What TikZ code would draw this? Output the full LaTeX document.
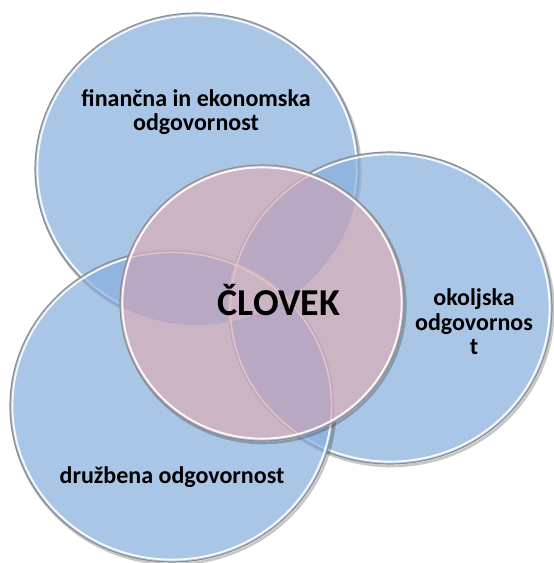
\documentclass[tikz,border=0pt]{standalone}
\usepackage{fontspec}
\setmainfont{Carlito}
\begin{document}
\begin{tikzpicture}[x=1pt,y=-1pt]
  % palette
  \definecolor{bluefill}{RGB}{134,174,220}
  \definecolor{pinklight}{RGB}{203,180,195}
  \definecolor{pinkdark}{RGB}{184,168,195}
  \definecolor{rimgray}{RGB}{140,140,140}
  \definecolor{seamline}{RGB}{232,192,190}
  \definecolor{headblue}{RGB}{44,88,158}

  \tikzset{
    ring/.style={x radius=162, y radius=156},
    innerring/.style={x radius=159.6, y radius=153.6},
    hubring/.style={x radius=142, y radius=138},
    hubinner/.style={x radius=139.6, y radius=135.6},
    rimshadow/.style={draw=black, draw opacity=0.22, line width=2.6pt},
    rimedge/.style={draw=rimgray, line width=1.1pt},
    rimshine/.style={draw=white, draw opacity=0.9, line width=1.9pt},
    disc/.style={fill=bluefill, fill opacity=0.7},
    lbl/.style={font=\bfseries\fontsize{24}{24.5}\selectfont, align=center, text=black, inner sep=0pt},
    hublbl/.style={font=\bfseries\fontsize{38}{42}\selectfont, text=black, inner sep=0pt},
    headlbl/.style={font=\bfseries\fontsize{24}{28}\selectfont, text=headblue, inner sep=0pt, anchor=base}
  }

  \useasboundingbox (0,0) rectangle (554,563);

  % centres of the four discs
  \coordinate (tl) at (197,169);
  \coordinate (rt) at (390,308);
  \coordinate (bl) at (172,406);
  \coordinate (hub) at (262,303);

  % heading line running off the top edge
  \begin{scope}
    \clip (0,0) rectangle (554,563);
    \node[headlbl] (h1) at (14,-4) {y};
    \node[headlbl] (h2) at (89,-4) {g};
    \node[headlbl] (h3) at (162,-4) {y};
  \end{scope}

  % the three blue discs, each with a soft rim
  \foreach \c in {tl,rt,bl}{
    \draw[rimshadow] ([shift={(1.4,2)}]\c) ellipse [ring];
    \fill[disc] (\c) ellipse [ring];
    \draw[rimedge] (\c) ellipse [ring];
    \draw[rimshine] (\c) ellipse [innerring];
  }

  % central disc: pairwise overlaps darker, single and triple zones lighter
  \draw[rimshadow] ([shift={(1.4,2)}]hub) ellipse [hubring];
  \begin{scope}
    \clip (hub) ellipse [hubring];
    \fill[pinkdark] (hub) ellipse [hubring];
    \fill[pinklight, even odd rule] (tl) ellipse [ring] (rt) ellipse [ring] (bl) ellipse [ring];
    \draw[seamline, line width=1.6pt] (rt) ellipse [innerring];
    \draw[seamline, line width=1.6pt] (bl) ellipse [innerring];
  \end{scope}
  \draw[rimedge] (hub) ellipse [hubring];
  \draw[rimshine] (hub) ellipse [hubinner];

  % labels
  \node[lbl] (fin) at (196,112) {finančna in ekonomska\\odgovornost};
  \node[lbl] (oko) at (474,322) {okoljska\\odgovornos\\t};
  \node[lbl, anchor=base] (dru) at (172,483) {družbena odgovornost};
  \node[hublbl, anchor=base] (clo) at (279,315) {ČLOVEK};
\end{tikzpicture}
\end{document}
